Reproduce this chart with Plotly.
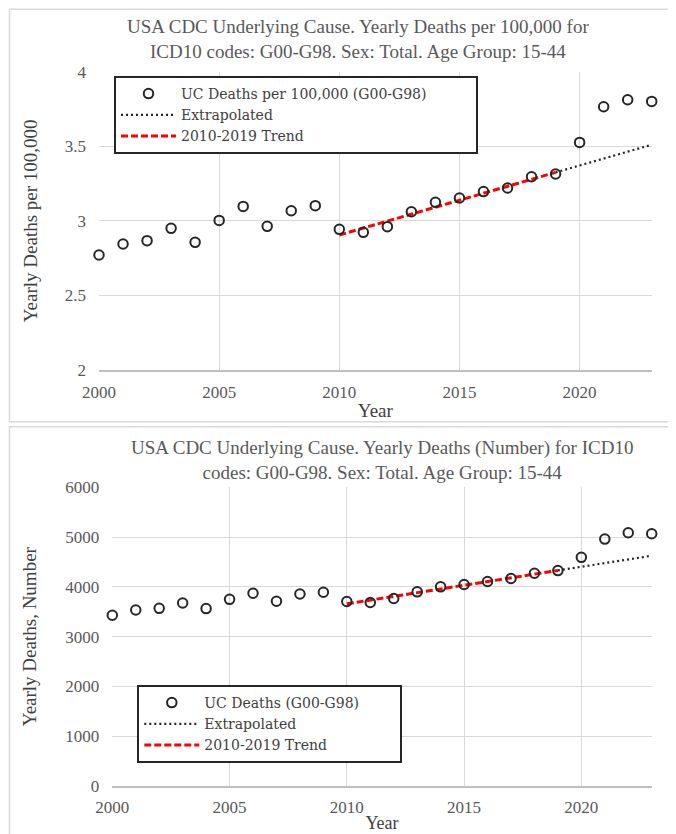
import plotly.graph_objects as go

# ---- data ----
years = list(range(2000, 2024))
rate_per_100k = [2.771, 2.845, 2.867, 2.950, 2.856, 3.003, 3.097, 2.963, 3.068, 3.102,
                 2.943, 2.923, 2.961, 3.061, 3.124, 3.153, 3.196, 3.220, 3.296, 3.314,
                 3.526, 3.765, 3.812, 3.801]
deaths_number = [3429, 3536, 3569, 3676, 3563, 3750, 3871, 3710, 3857, 3891,
                 3707, 3687, 3767, 3900, 4000, 4047, 4107, 4167, 4273, 4327,
                 4593, 4960, 5087, 5067]
trend_years = [2010, 2019]
rate_trend = [2.905, 3.325]
number_trend = [3660, 4330]
extrap_years = [2019, 2023]
rate_extrap = [3.325, 3.51]
number_extrap = [4330, 4625]

title_top = "USA CDC Underlying Cause. Yearly Deaths per 100,000 for<br>ICD10 codes: G00-G98. Sex: Total. Age Group: 15-44"
title_bot = "USA CDC Underlying Cause. Yearly Deaths (Number) for ICD10<br>codes: G00-G98. Sex: Total. Age Group: 15-44"

OFF = 8  # page body margin
W, H = 676, 834
FONT = "Liberation Serif"
LEG_FONT = "DejaVu Serif"
GRAY = "#595959"
GRID = "#d9d9d9"
NB = "\u00a0"

def px_x(p):
    return (p - OFF) / W

def px_y(p):
    return 1 - (p - OFF) / H

fig = go.Figure()

def add_series(xa, ya, legend, yvals, trend, extrap, name, pad):
    fig.add_trace(go.Scatter(x=trend_years, y=trend, mode="lines", name="2010-2019 Trend",
                             line=dict(color="#ff0000", width=3, dash="7px,3px"),
                             xaxis=xa, yaxis=ya, legend=legend, legendrank=3))
    fig.add_trace(go.Scatter(x=extrap_years, y=extrap, mode="lines", name="Extrapolated",
                             line=dict(color="#262626", width=2.2, dash="2px,3px"),
                             xaxis=xa, yaxis=ya, legend=legend, legendrank=2))
    fig.add_trace(go.Scatter(x=years, y=yvals, mode="markers", name=name + NB * pad,
                             marker=dict(symbol="circle-open", size=9.5, color="#262626",
                                         line=dict(width=2, color="#262626")),
                             cliponaxis=False,
                             xaxis=xa, yaxis=ya, legend=legend, legendrank=1))

add_series("x", "y", "legend", rate_per_100k, rate_trend, rate_extrap, "UC Deaths per 100,000 (G00-G98)", 10)
add_series("x2", "y2", "legend2", deaths_number, number_trend, number_extrap, "UC Deaths (G00-G98)", 8)

axis_common = dict(showgrid=True, gridcolor=GRID, gridwidth=1, zeroline=False, automargin=False,
                   tickfont=dict(family=FONT, size=17, color=GRAY), ticks="")
title_font = dict(family=FONT, size=19, color="#404040")
leg_common = dict(xanchor="left", yanchor="top", bordercolor="#262626", borderwidth=2,
                  bgcolor="white", font=dict(family=LEG_FONT, size=14, color="#404040"),
                  itemwidth=55, tracegroupgap=0, traceorder="normal")

fig.update_layout(
    width=W, height=H, margin=dict(l=0, r=0, t=0, b=0, autoexpand=False),
    paper_bgcolor="white", plot_bgcolor="white",
    font=dict(family=FONT, color=GRAY),
    xaxis=dict(domain=[px_x(99), px_x(651.7)], range=[2000, 2023], dtick=5, tick0=2000,
               showline=True, linecolor="#bfbfbf", linewidth=1.5, anchor="y",
               title=dict(text="Year", font=title_font, standoff=3),
               ticklabelstandoff=6, **axis_common),
    yaxis=dict(domain=[px_y(370), px_y(71.7)], range=[2, 4], dtick=0.5, anchor="x",
               showline=False,
               title=dict(text="Yearly Deaths per 100,000", font=title_font, standoff=22),
               ticklabelstandoff=12, **axis_common),
    xaxis2=dict(domain=[px_x(112.3), px_x(651.7)], range=[2000, 2023], dtick=5, tick0=2000,
                showline=True, linecolor="#bfbfbf", linewidth=1.5, anchor="y2",
                title=dict(text="Year", font=dict(family=FONT, size=18, color="#404040"), standoff=0),
                ticklabelstandoff=5, **axis_common),
    yaxis2=dict(domain=[px_y(786), px_y(487.3)], range=[0, 6000], dtick=1000, anchor="x2",
                showline=False,
                title=dict(text="Yearly Deaths, Number", font=title_font, standoff=23),
                ticklabelstandoff=12, **axis_common),
    legend=dict(x=px_x(114), y=px_y(76), **leg_common),
    legend2=dict(x=px_x(137.3), y=px_y(685), **leg_common),
    showlegend=True,
)

# outer chart frames
fig.add_shape(type="rect", xref="paper", yref="paper",
              x0=px_x(9.5), x1=px_x(680), y0=px_y(421.7), y1=px_y(9.3),
              line=dict(color=GRID, width=1.5), layer="below")
fig.add_shape(type="rect", xref="paper", yref="paper",
              x0=px_x(9.5), x1=px_x(680), y0=px_y(840), y1=px_y(426.7),
              line=dict(color=GRID, width=1.5), layer="below")

fig.add_annotation(text=title_top, xref="paper", yref="paper", x=px_x(358), y=px_y(39),
                   showarrow=False, xanchor="center", yanchor="middle",
                   font=dict(family=FONT, size=19, color=GRAY))
fig.add_annotation(text=title_bot, xref="paper", yref="paper", x=px_x(381.5), y=px_y(460),
                   showarrow=False, xanchor="center", yanchor="middle",
                   font=dict(family=FONT, size=19, color=GRAY))

fig.write_html("out.html")
